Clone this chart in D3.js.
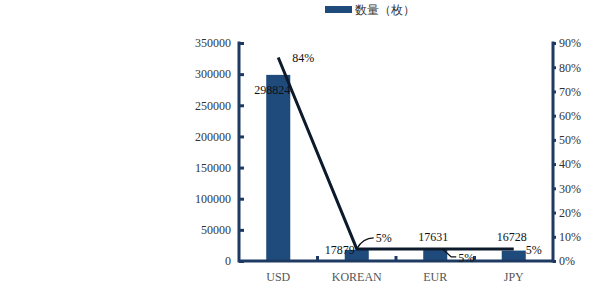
<!DOCTYPE html>
<html>
<head>
<meta charset="utf-8">
<script src="https://cdn.jsdelivr.net/npm/d3@7"></script>
<style>
  html, body { margin: 0; padding: 0; background: #fff; }
  svg { display: block; }
  text { font-family: "Liberation Serif", "DejaVu Serif", serif; }
</style>
</head>
<body>
<svg id="chart" width="600" height="300"></svg>
<script>
// Currency categories
const categories = ["USD", "KOREAN", "EUR", "JPY"];
// Count (bars, left axis)
const counts = [298824, 17879, 17631, 16728];
// Share (line, right axis)
const shares = [0.84, 0.05, 0.05, 0.05];
const shareLabels = ["84%", "5%", "5%", "5%"];
// Axis ticks
const leftTicks = [0, 50000, 100000, 150000, 200000, 250000, 300000, 350000];
const rightTicks = [0, 0.1, 0.2, 0.3, 0.4, 0.5, 0.6, 0.7, 0.8, 0.9];
const legendLabel = "数量（枚）";

const barColor = "#1f4a7c";
const axisColor = "#1f3a62";
const lineColor = "#0c1a2c";

const svg = d3.select("#chart");
const plotL = 239, plotR = 553, plotT = 43, plotB = 261;

const x = d3.scaleBand().domain(categories).range([plotL, plotR])
  .paddingInner(0.694).paddingOuter(0.347);
const yL = d3.scaleLinear().domain([0, 350000]).range([plotB, plotT]);
const yR = d3.scaleLinear().domain([0, 0.9]).range([plotB, plotT]);
const cx = c => x(c) + x.bandwidth() / 2;

// Bars
svg.append("g").selectAll("rect").data(categories).join("rect")
  .attr("x", d => x(d))
  .attr("width", x.bandwidth())
  .attr("y", (d, i) => yL(counts[i]))
  .attr("height", (d, i) => plotB - yL(counts[i]))
  .attr("fill", barColor);

// Left axis
const axL = svg.append("g").attr("transform", `translate(${plotL},0)`)
  .call(d3.axisRight(yL).tickValues(leftTicks).tickSize(5).tickFormat(d3.format("d")));
axL.select(".domain").remove();
axL.selectAll(".tick line").attr("stroke", axisColor).attr("stroke-width", 3);
axL.selectAll(".tick text").attr("x", -8).attr("text-anchor", "end")
  .attr("fill", "#333").attr("font-size", 12).attr("font-family", "Liberation Serif");
svg.append("line").attr("x1", plotL).attr("x2", plotL).attr("y1", plotT - 1.5).attr("y2", plotB + 1.5)
  .attr("stroke", axisColor).attr("stroke-width", 3);

// Right axis
const axR = svg.append("g").attr("transform", `translate(${plotR},0)`)
  .call(d3.axisRight(yR).tickValues(rightTicks).tickSize(3).tickFormat(d3.format(".0%")));
axR.select(".domain").remove();
axR.selectAll(".tick line").attr("stroke", axisColor).attr("stroke-width", 3);
axR.selectAll(".tick text").attr("x", 6)
  .attr("fill", "#333").attr("font-size", 12).attr("font-family", "Liberation Serif");
svg.append("line").attr("x1", plotR).attr("x2", plotR).attr("y1", plotT - 1.5).attr("y2", plotB + 1.5)
  .attr("stroke", axisColor).attr("stroke-width", 3);

// Bottom axis with category separators
svg.append("line").attr("x1", plotL).attr("x2", plotR).attr("y1", plotB).attr("y2", plotB)
  .attr("stroke", axisColor).attr("stroke-width", 3);
svg.append("g").selectAll("line").data(categories.slice(1)).join("line")
  .attr("x1", d => x(d) - x.step() * x.paddingInner() / 2)
  .attr("x2", d => x(d) - x.step() * x.paddingInner() / 2)
  .attr("y1", plotB).attr("y2", plotB - 5)
  .attr("stroke", axisColor).attr("stroke-width", 3);
svg.append("g").selectAll("text").data(categories).join("text")
  .attr("x", d => cx(d)).attr("y", plotB + 20)
  .attr("text-anchor", "middle").attr("fill", "#555").attr("font-size", 12)
  .text(d => d);

// Share line
const line = d3.line().x((d, i) => cx(categories[i])).y(d => yR(d));
svg.append("path").datum(shares).attr("d", line)
  .attr("fill", "none").attr("stroke", lineColor).attr("stroke-width", 3);

// Count labels
const countPos = [
  { dx: -6, dy: 19 },
  { dx: -17, dy: 4 },
  { dx: -2, dy: -9 },
  { dx: -2, dy: -10 }
];
svg.append("g").selectAll("text").data(categories).join("text")
  .attr("x", (d, i) => cx(d) + countPos[i].dx)
  .attr("y", (d, i) => yL(counts[i]) + countPos[i].dy)
  .attr("text-anchor", "middle").attr("fill", "#111").attr("font-size", 12)
  .text((d, i) => counts[i]);

// Share labels
const sharePos = [
  { dx: 14, dy: 4, anchor: "start" },
  { dx: 19, dy: -7, anchor: "start" },
  { dx: 23, dy: 13, anchor: "start" },
  { dx: 12, dy: 5, anchor: "start" }
];
svg.append("g").selectAll("text").data(categories).join("text")
  .attr("x", (d, i) => cx(d) + sharePos[i].dx)
  .attr("y", (d, i) => yR(shares[i]) + sharePos[i].dy)
  .attr("text-anchor", (d, i) => sharePos[i].anchor)
  .attr("fill", "#111").attr("font-size", 12)
  .text((d, i) => shareLabels[i]);

// Leader lines for the KOREAN and EUR share labels
const kx = cx("KOREAN"), ky = yR(shares[1]);
svg.append("path")
  .attr("d", `M${kx},${ky} Q${kx + 6},${ky - 11} ${kx + 17},${ky - 11}`)
  .attr("fill", "none").attr("stroke", "#111").attr("stroke-width", 1.3);
const ex = cx("EUR"), ey = yR(shares[2]);
svg.append("path")
  .attr("d", `M${ex + 7},${ey} L${ex + 16},${ey + 8} L${ex + 21},${ey + 8}`)
  .attr("fill", "none").attr("stroke", "#111").attr("stroke-width", 1.3);

// Legend
svg.append("rect").attr("x", 325).attr("y", 6).attr("width", 27).attr("height", 7).attr("fill", barColor);
svg.append("text").attr("x", 355).attr("y", 14).attr("fill", "#333").attr("font-size", 12)
  .attr("font-family", "Noto Sans CJK SC").text(legendLabel);
</script>
</body>
</html>
